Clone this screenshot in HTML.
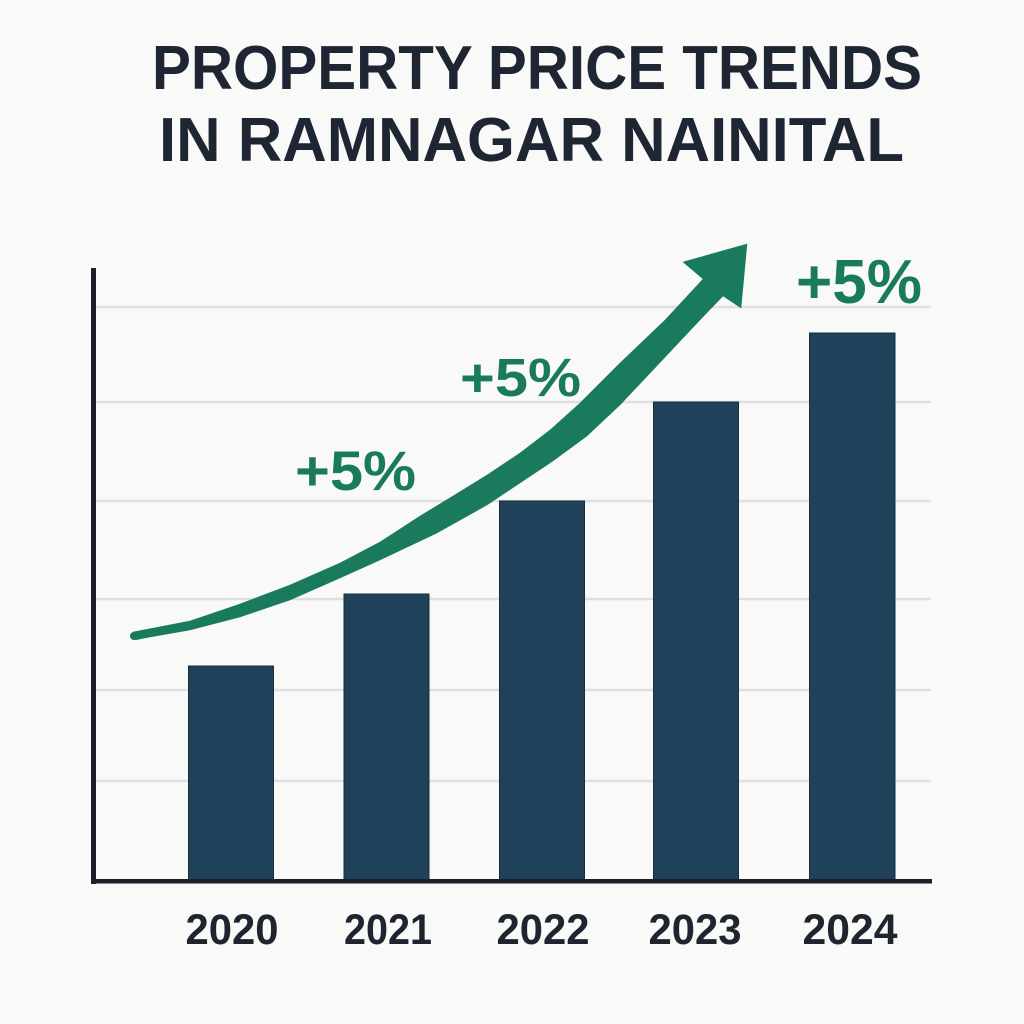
<!DOCTYPE html>
<html>
<head>
<meta charset="utf-8">
<style>
  html,body{margin:0;padding:0;background:#f9f9f7;}
  svg{display:block;}
</style>
</head>
<body>
<svg width="1024" height="1024" viewBox="0 0 1024 1024" xmlns="http://www.w3.org/2000/svg">
  <rect x="0" y="0" width="1024" height="1024" fill="#f9f9f7"/>

  <!-- Title -->
  <g font-family="'Liberation Sans', Arial, sans-serif" font-weight="bold" fill="#1f2633" font-size="62">
    <text x="152" y="89" textLength="770" lengthAdjust="spacingAndGlyphs">PROPERTY PRICE TRENDS</text>
    <text x="159" y="161" textLength="745" lengthAdjust="spacingAndGlyphs">IN RAMNAGAR NAINITAL</text>
  </g>

  <!-- Gridlines -->
  <g stroke="#dedfe3" stroke-width="2.5">
    <line x1="96" y1="307" x2="931" y2="307"/>
    <line x1="96" y1="402" x2="931" y2="402"/>
    <line x1="96" y1="501" x2="931" y2="501"/>
    <line x1="96" y1="599" x2="931" y2="599"/>
    <line x1="96" y1="690" x2="931" y2="690"/>
    <line x1="96" y1="781" x2="931" y2="781"/>
  </g>

  <!-- Bars -->
  <g fill="#1f425a" stroke="#15303f" stroke-width="1">
    <rect x="188.5" y="666" width="85" height="215"/>
    <rect x="344" y="594" width="85" height="287"/>
    <rect x="499.5" y="501" width="85" height="380"/>
    <rect x="653.5" y="402" width="85" height="479"/>
    <rect x="809.5" y="333" width="85.5" height="548"/>
  </g>

  <!-- Axes -->
  <rect x="91" y="268" width="5" height="616" fill="#1a1f29"/>
  <rect x="91" y="879" width="841" height="4.5" fill="#1a1f29"/>

  <!-- Trend arrow -->
  <path fill="#1a7a5e" stroke="#1a7a5e" stroke-width="0.5" stroke-linejoin="round" d="
    M 133,632
    L 190,621 L 240,604 L 290,585 L 340,563 L 380,542 L 420,516 L 453,496
    L 487,475 L 520,453 L 550,430 L 580,403 L 620,363 L 665,320 L 703,279
    L 683,262 L 747,244 L 741,308 L 723,296
    L 700,320 L 653,370 L 620,405 L 587,436 L 553,461 L 520,483 L 487,505
    L 437,533 L 380,560 L 340,578 L 290,600 L 240,617 L 190,630 L 150,637 L 135,640 Z"/>
  <circle cx="134" cy="636" r="4" fill="#1a7a5e"/>

  <!-- Percentage labels -->
  <g font-family="'Liberation Sans', Arial, sans-serif" font-weight="bold" fill="#1a7a5e">
    <text x="295" y="490" font-size="56" textLength="121" lengthAdjust="spacingAndGlyphs">+5%</text>
    <text x="460" y="396" font-size="54" textLength="121" lengthAdjust="spacingAndGlyphs">+5%</text>
    <text x="796" y="303" font-size="62" textLength="126" lengthAdjust="spacingAndGlyphs">+5%</text>
  </g>

  <!-- X labels -->
  <g font-family="'Liberation Sans', Arial, sans-serif" font-weight="bold" fill="#1f2530" font-size="43" text-anchor="middle">
    <text x="232" y="944" textLength="93" lengthAdjust="spacingAndGlyphs">2020</text>
    <text x="388" y="944" textLength="88" lengthAdjust="spacingAndGlyphs">2021</text>
    <text x="543" y="944" textLength="93" lengthAdjust="spacingAndGlyphs">2022</text>
    <text x="695" y="944" textLength="93" lengthAdjust="spacingAndGlyphs">2023</text>
    <text x="850" y="944" textLength="95" lengthAdjust="spacingAndGlyphs">2024</text>
  </g>
</svg>
</body>
</html>
